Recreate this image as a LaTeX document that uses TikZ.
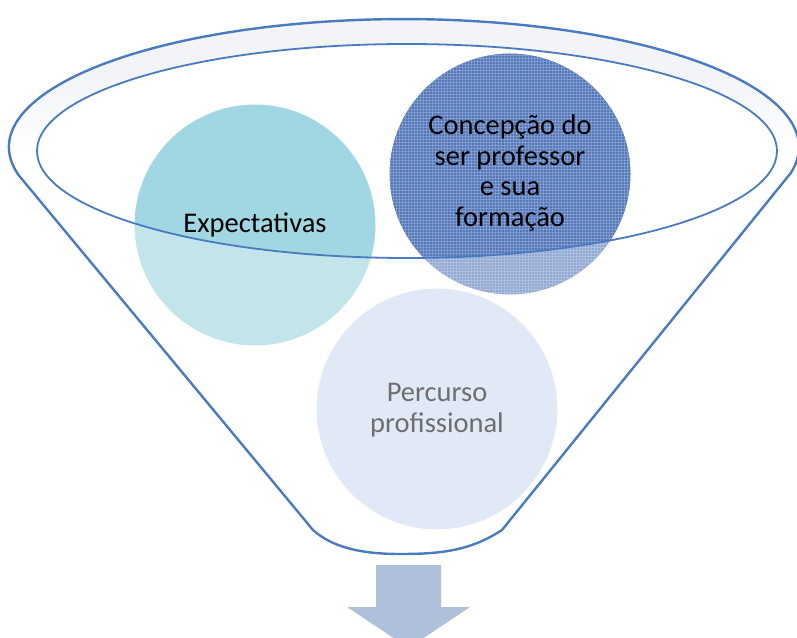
\documentclass[tikz,border=0pt]{standalone}
\usepackage{fontspec}
\setmainfont{Carlito}
\usetikzlibrary{patterns}
\definecolor{fline}{HTML}{4A7BC0}
\definecolor{rimgray}{HTML}{EBEEF5}
\definecolor{expc}{HTML}{A0D7E2}
\definecolor{conc}{HTML}{5677B5}
\definecolor{conpat}{HTML}{93AEDD}
\definecolor{perc}{HTML}{D3DDF2}
\definecolor{arrc}{HTML}{AFC0DB}
\definecolor{graytext}{HTML}{6E6E6E}
\tikzset{
  bubble/.style={circle, inner sep=0pt, minimum size=242pt, draw=white, line width=1pt},
  lbl/.style={align=center, font=\fontsize{28.5}{30.5}\selectfont},
  funnelline/.style={draw=fline, line width=2.4pt, line join=round},
}
\begin{document}
\begin{tikzpicture}[x=1pt,y=1pt]
\useasboundingbox (0,0) rectangle (797,637);
\clip (0,0) rectangle (797,637);
% rim band between outer and inner ellipse, fading downwards
\begin{scope}[even odd rule]
\clip (404,490) ellipse [x radius=395, y radius=128]
  (407,486) ellipse [x radius=370, y radius=107];
\shade[top color=rimgray, bottom color=white, middle color=rimgray] (0,490) rectangle (797,637);
\end{scope}
% bubbles
\node[bubble, fill=expc] (exp) at (255,412) {};
\node[bubble, fill=conc] (con) at (510,463) {};
\fill[pattern=grid, pattern color=conpat, opacity=0.6] (con.center) circle (120);
\node[bubble, fill=perc] (per) at (437,228) {};
% pale overlay on the funnel body outside the inner ellipse
\fill[white, opacity=0.36, even odd rule]
  (18.5,462) arc[start angle=192.6, end angle=-11.7, x radius=395, y radius=128]
  -- (502,107) .. controls (470,86) and (440,83) .. (400,83)
  .. controls (360,83) and (332,90) .. (313,107) -- cycle
  (407,486) ellipse [x radius=370, y radius=107];
% funnel outline
\draw[funnelline]
  (18.5,462) arc[start angle=192.6, end angle=-11.7, x radius=395, y radius=128]
  -- (502,107) .. controls (470,86) and (440,83) .. (400,83)
  .. controls (360,83) and (332,90) .. (313,107) -- cycle;
% inner rim ellipse
\draw[draw=fline, line width=1.8pt] (407,486) ellipse [x radius=370, y radius=107];
% labels
\node[lbl, text=black] (expt) at (exp.center) {Expectativas};
\node[lbl, text=black] (cont) at (510,464) {Concepção do\\ser professor\\e sua\\formação};
\node[lbl, text=graytext] (pert) at (437,227) {Percurso\\profissional};
% down arrow
\fill[arrc] (376,72) -- (441,72) -- (441,30) -- (470,30) -- (408.5,-11)
  -- (347,30) -- (376,30) -- cycle;
\end{tikzpicture}
\end{document}
